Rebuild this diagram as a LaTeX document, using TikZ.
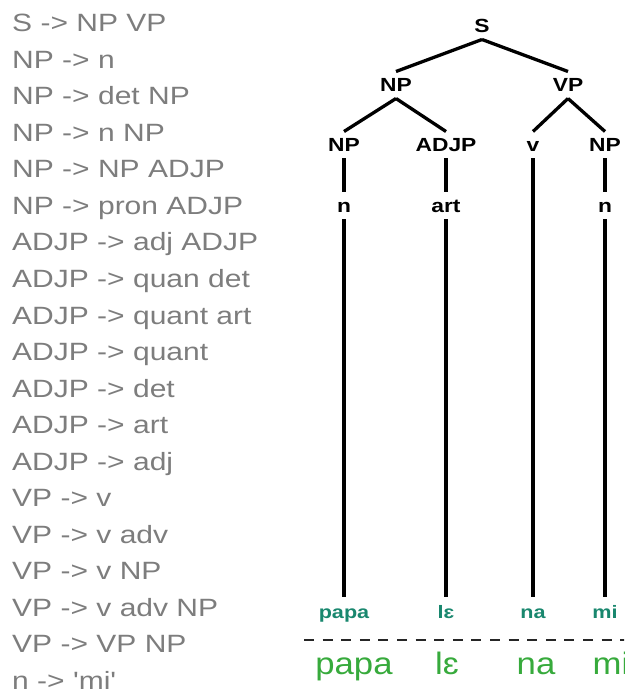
\documentclass[tikz,border=0pt]{standalone}
\usepackage{fontspec}
\setmainfont{Liberation Sans}
\definecolor{rulegray}{RGB}{125,125,125}
\definecolor{leafteal}{RGB}{25,135,110}
\definecolor{wordgreen}{RGB}{55,170,60}
\begin{document}
\begin{tikzpicture}[x=1pt,y=-1pt,
  rule/.style={anchor=base west, inner sep=0pt, text=rulegray,
    font=\fontsize{25}{25}\selectfont, xscale=1.2},
  cat/.style={anchor=base, inner sep=0pt, outer xsep=0pt, outer ysep=6.5pt,
    text height=14pt, text depth=0pt,
    font=\bfseries\fontsize{19}{19}\selectfont, xscale=1.2},
  leaf/.style={anchor=base, inner sep=0pt, outer xsep=0pt, outer ysep=10pt,
    text height=11pt, text depth=0pt, text=leafteal,
    font=\bfseries\fontsize{18}{18}\selectfont, xscale=1.2},
  word/.style={anchor=base, inner sep=0pt, text=wordgreen,
    font=\fontsize{31}{31}\selectfont, xscale=1.12},
  branch/.style={line width=3.3pt, black},
  divider/.style={line width=2.2pt, black!85, dash pattern=on 10pt off 8.6pt}]
\useasboundingbox (0,0) rectangle (624,700);
\clip (0,0) rectangle (624,700);

% grammar rules
\foreach \r [count=\i from 0] in {
  {S -> NP VP}, {NP -> n}, {NP -> det NP}, {NP -> n NP}, {NP -> NP ADJP},
  {NP -> pron ADJP}, {ADJP -> adj ADJP}, {ADJP -> quan det},
  {ADJP -> quant art}, {ADJP -> quant}, {ADJP -> det}, {ADJP -> art},
  {ADJP -> adj}, {VP -> v}, {VP -> v adv}, {VP -> v NP}, {VP -> v adv NP},
  {VP -> VP NP}, {n -> \textquotesingle mi\textquotesingle}}
  \node[rule] (rule\i) at (12, 32+36.5*\i) {\r};

% parse tree categories
\node[cat] (s)    at (482, 33)  {S};
\node[cat] (np)   at (396, 92)  {NP};
\node[cat] (vp)   at (568, 92)  {VP};
\node[cat] (npa)  at (344, 152) {NP};
\node[cat] (adjp) at (446, 152) {ADJP};
\node[cat] (v)    at (533, 152) {v};
\node[cat] (npb)  at (605, 152) {NP};
\node[cat] (na)   at (344, 213) {n};
\node[cat] (art)  at (446, 213) {art};
\node[cat] (nb)   at (605, 213) {n};

% leaves
\node[leaf] (l1) at (344, 618) {papa};
\node[leaf] (l2) at (446, 618) {lɛ};
\node[leaf] (l3) at (533, 618) {na};
\node[leaf] (l4) at (605, 618) {mi};

% branches
\draw[branch] (s.south) -- (np.north);
\draw[branch] (s.south) -- (vp.north);
\draw[branch] (np.south) -- (npa.north);
\draw[branch] (np.south) -- (adjp.north);
\draw[branch] (vp.south) -- (v.north);
\draw[branch] (vp.south) -- (npb.north);
\draw[branch] (npa.south) -- (na.north);
\draw[branch] (adjp.south) -- (art.north);
\draw[branch] (npb.south) -- (nb.north);
\draw[branch] (na.south) -- (l1.north);
\draw[branch] (art.south) -- (l2.north);
\draw[branch] (v.south) -- (l3.north);
\draw[branch] (nb.south) -- (l4.north);

% divider and sentence
\coordinate (dl) at (304, 640);
\coordinate (dr) at (630, 640);
\draw[divider] (dl) -- (dr);

\node[word] (w1) at (354, 674) {papa};
\node[word] (w2) at (447, 674) {lɛ};
\node[word] (w3) at (536, 674) {na};
\node[word] (w4) at (611, 674) {mi};
\end{tikzpicture}
\end{document}
